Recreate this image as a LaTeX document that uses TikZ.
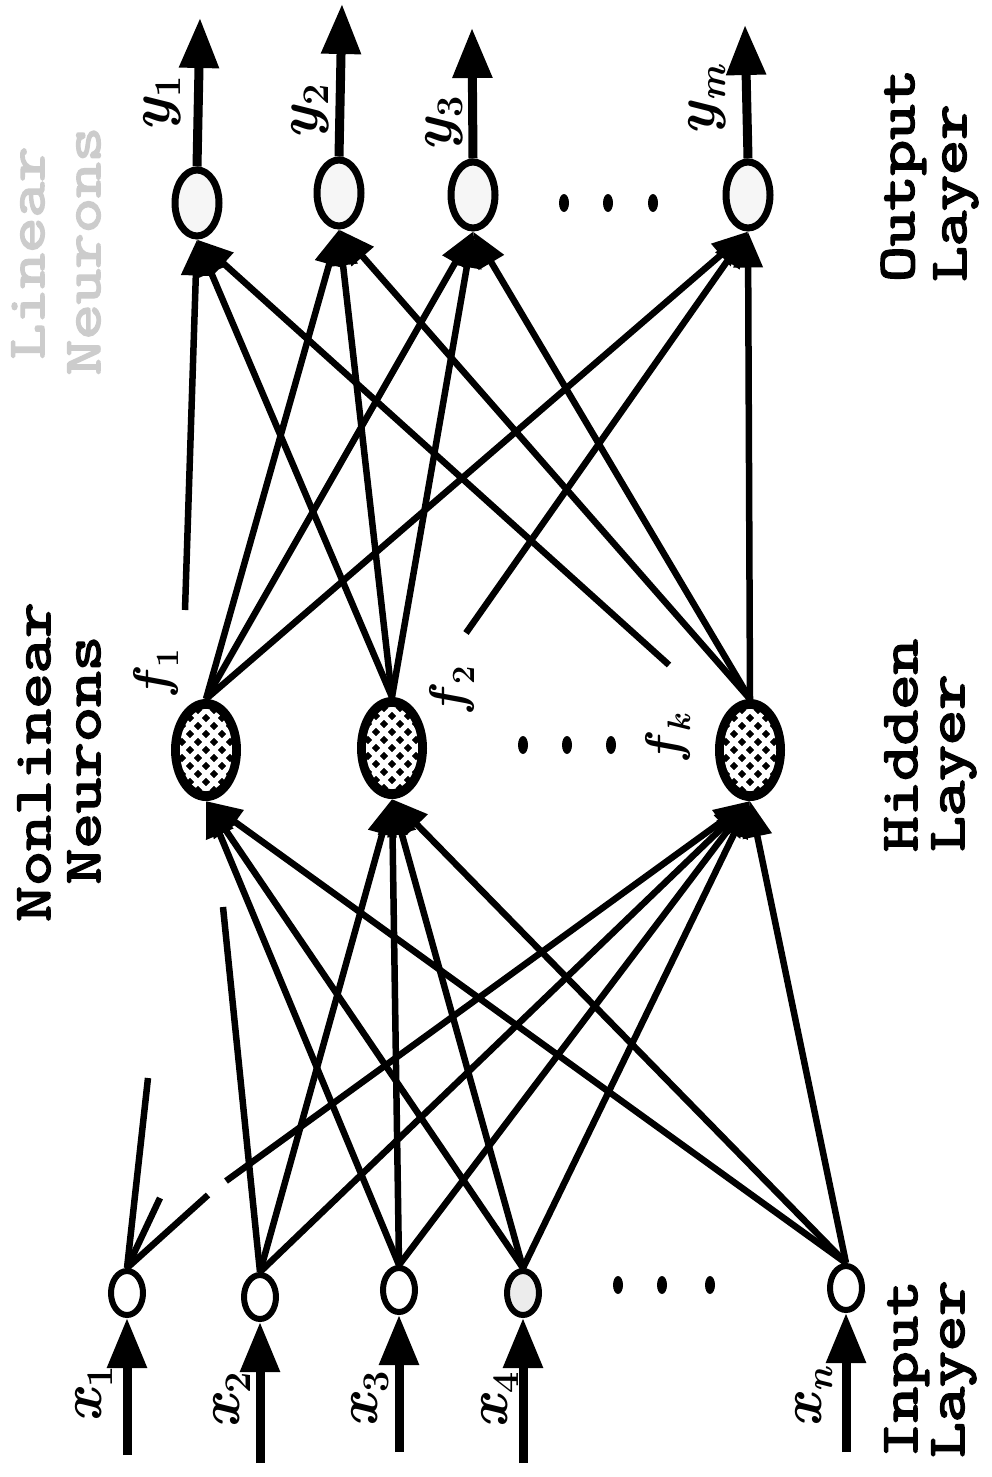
\documentclass[tikz,border=0pt]{standalone}
\usepackage{fontspec}
\newfontfamily\lblfont{Latin Modern Mono}[FakeBold=3]
\usetikzlibrary{arrows.meta,calc,shapes.geometric}
\newcommand\mylab[2]{\textbf{\textit{#1}}\raisebox{-0.2em}{\scalebox{0.65}{\textbf{#2}}}}
\newcommand\widetxt[1]{\scalebox{1.3}[1]{#1}}
\begin{document}
\begin{tikzpicture}[x=1pt,y=-1pt,
  conn/.style={line width=6.5pt},
  arr/.style={conn,-{Triangle[length=36pt,width=28pt]}},
  io/.style={line width=9pt,-{Triangle[length=50pt,width=38pt]}},
  innode/.style={ellipse,draw,line width=6pt,fill=white,minimum width=32pt,minimum height=44pt,inner sep=0pt},
  outnode/.style={ellipse,draw,line width=7pt,fill=gray!7,minimum width=44pt,minimum height=66pt,inner sep=0pt},
  hidnode/.style={ellipse,draw,line width=8pt,fill=black,minimum width=62pt,minimum height=94pt,inner sep=0pt},
  layer/.style={font=\lblfont\fontsize{53}{56}\selectfont,rotate=90,inner sep=0pt},
  mlab/.style={rotate=90,inner sep=0pt,font=\fontsize{58}{62}\selectfont},
  flab/.style={rotate=90,inner sep=0pt,font=\fontsize{50}{54}\selectfont},
  hatch/.style={white,line width=5pt}
]
\useasboundingbox (0,0) rectangle (992,1477);
\fill[white] (0,0) rectangle (992,1477);

% nodes
\node[innode] (x1) at (127,1293) {};
\node[innode] (x2) at (260,1297) {};
\node[innode] (x3) at (399,1290) {};
\node[innode,fill=gray!15] (x4) at (523,1293) {};
\node[innode] (xn) at (846,1288) {};
\node[hidnode] (h1) at (206,750) {};
\node[hidnode] (h2) at (392,748) {};
\node[hidnode] (hk) at (750,750) {};
\node[outnode] (o1) at (197,203) {};
\node[outnode] (o2) at (339,193) {};
\node[outnode] (o3) at (473,195) {};
\node[outnode] (om) at (748,195) {};

% hatching of hidden neurons
\foreach \h in {h1,h2,hk}{
  \begin{scope}
    \clip (\h.center) ellipse [x radius=26pt, y radius=41pt];
    \foreach \d in {-120,-104,...,120}{
      \draw[hatch] ($(\h.center)+(\d,0)+(-60,-60)$) -- ++(120,120);
      \draw[hatch] ($(\h.center)+(\d,0)+(60,-60)$) -- ++(-120,120);
    }
  \end{scope}
}

% full connectors
\foreach \a/\b in {x2/h2,x2/hk,x3/h1,x3/h2,x3/hk,x4/h1,x4/h2,x4/hk,xn/h1,xn/h2,xn/hk,
                   h1/o2,h1/o3,h1/om,h2/o1,h2/o2,h2/o3,hk/o2,hk/o3,hk/om}
  \draw[arr] (\a.north) -- (\b.south);

% partial connectors
\coordinate (sa) at (148,1078);
\coordinate (sb) at (160,1198);
\coordinate (sc) at (208,1195);
\coordinate (sd) at (226,1181);
\coordinate (se) at (223,907);
\coordinate (sf) at (185,610);
\coordinate (sg) at (466,633);
\coordinate (sh) at (669,665);
\draw[conn] (x1.north) -- (sa);
\draw[conn] (x1.north) -- (sb);
\draw[conn] (x1.north) -- (sc);
\draw[arr] (sd) -- (hk.south);
\draw[conn] (x2.north) -- (se);
\draw[arr] (sf) -- (o1.south);
\draw[arr] (sg) -- (om.south);
\draw[arr] (sh) -- (o1.south);

% output arrows
\coordinate (t1) at (200,18);
\coordinate (t2) at (342,4);
\coordinate (t3) at (472,28);
\coordinate (tm) at (745,25);
\draw[io] (o1.north) -- (t1);
\draw[io] (o2.north) -- (t2);
\draw[io] (o3.north) -- (t3);
\draw[io] (om.north) -- (tm);

% input arrows
\coordinate (b1) at (127,1455);
\coordinate (b2) at (260,1463);
\coordinate (b3) at (399,1452);
\coordinate (b4) at (523,1463);
\coordinate (bn) at (846,1452);
\draw[io] (b1) -- (x1.south);
\draw[io] (b2) -- (x2.south);
\draw[io] (b3) -- (x3.south);
\draw[io] (b4) -- (x4.south);
\draw[io] (bn) -- (xn.south);

% dots
\foreach \px/\py in {564/203,608/203,653/203,523/745,567/745,611/745,618/1285,662/1285,710/1285}
  \fill (\px,\py) ellipse [x radius=5pt, y radius=9pt];

% variable labels
\node[mlab] (ly1) at (162,104) {\mylab{y}{1}};
\node[mlab] (ly2) at (310,112) {\mylab{y}{2}};
\node[mlab] (ly3) at (444,124) {\mylab{y}{3}};
\node[mlab] (lym) at (707,100) {\mylab{y}{\textit{m}}};
\node[mlab] (lx1) at (94,1394) {\mylab{x}{1}};
\node[mlab] (lx2) at (232,1400) {\mylab{x}{2}};
\node[mlab] (lx3) at (370,1399) {\mylab{x}{3}};
\node[mlab] (lx4) at (500,1400) {\mylab{x}{4}};
\node[mlab] (lxn) at (814,1397) {\mylab{x}{\textit{n}}};
\node[flab] (lf1) at (156,672) {\mylab{f}{1}};
\node[flab] (lf2) at (452,689) {\mylab{f}{2}};
\node[flab] (lfk) at (668,737) {\mylab{f}{\textit{k}}};

% layer texts
\node[layer,anchor=base west] (lo1) at (914,282) {\widetxt{Output}};
\node[layer,anchor=base west] (lo2) at (966,282) {\widetxt{Layer}};
\node[layer,anchor=base west] (lh1) at (917,852) {\widetxt{Hidden}};
\node[layer,anchor=base west] (lh2) at (964,852) {\widetxt{Layer}};
\node[layer,anchor=base west] (li1) at (917,1458) {\widetxt{Input}};
\node[layer,anchor=base west] (li2) at (964,1458) {\widetxt{Layer}};
\node[layer,anchor=base] (nn1) at (50,762) {\widetxt{Nonlinear}};
\node[layer,anchor=base] (nn2) at (100,760) {\widetxt{Neurons}};
\node[layer,anchor=base,text=gray!40] (ln1) at (44,253) {\widetxt{Linear}};
\node[layer,anchor=base,text=gray!40] (ln2) at (100,251) {\widetxt{Neurons}};
\end{tikzpicture}
\end{document}
